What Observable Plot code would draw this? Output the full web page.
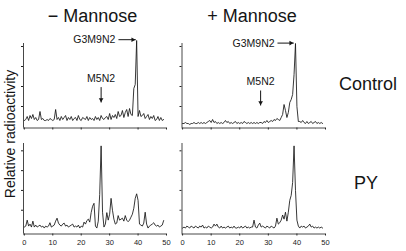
<!DOCTYPE html>
<html><head><meta charset="utf-8">
<script src="https://cdn.jsdelivr.net/npm/d3@7"></script>
<script src="https://cdn.jsdelivr.net/npm/@observablehq/plot@0.6"></script>
<style>
body{margin:0;background:#fff;font-family:"Liberation Sans",Arial,sans-serif;}
#chart{position:relative;width:406px;height:251px;overflow:hidden;background:#fff}
#chart svg{position:absolute;left:0;top:0}
</style></head><body>
<div id="chart"></div>
<script>
// elution time (min)
const times = [
 0,0.5,1,1.5,2,2.5,3,3.5,4,4.5, 5,5.5,6,6.5,7,7.5,8,8.5,9,9.5,
 10,10.5,11,11.5,12,12.5,13,13.5,14,14.5, 15,15.5,16,16.5,17,17.5,18,18.5,19,19.5,
 20,20.5,21,21.5,22,22.5,23,23.5,24,24.5, 25,25.5,26,26.5,27,27.5,28,28.5,29,29.5,
 30,30.5,31,31.5,32,32.5,33,33.5,34,34.5, 35,35.5,36,36.5,37,37.5,38,38.5,39,39.5,
 40,40.5,41,41.5,42,42.5,43,43.5,44,44.5, 45,45.5,46,46.5,47,47.5,48,48.5,49];

// relative radioactivity, − Mannose / Control
const minusControl = [
 0.3,0.35,0.5,0.3,0.55,0.4,0.6,0.35,0.45,0.3, 0.35,0.75,0.35,0.4,0.3,0.3,0.35,0.3,0.4,0.35,
 0.3,0.35,0.85,0.35,0.45,0.3,0.5,0.35,0.45,0.55, 0.3,0.45,0.35,0.5,0.3,0.4,0.45,0.3,0.55,0.35,
 0.3,0.45,0.4,0.35,0.5,0.3,0.45,0.35,0.4,0.3, 0.5,0.35,0.45,0.3,0.55,0.4,0.35,0.45,0.5,0.35,
 0.65,0.35,0.55,0.45,0.6,0.4,0.75,0.5,0.55,0.8, 0.45,0.7,0.85,0.5,0.9,0.6,0.55,1.9,2.1,4.3,
 0.5,0.8,0.5,0.55,0.65,0.4,0.5,0.6,0.35,0.5, 0.4,0.55,0.3,0.35,0.5,0.3,0.45,0.3,0.35];
// + Mannose / Control
const plusControl = [
 0.15,0.15,0.2,0.15,0.15,0.1,0.15,0.15,0.2,0.15, 0.15,0.2,0.15,0.2,0.15,0.2,0.15,0.2,0.25,0.3,
 0.2,0.35,0.2,0.25,0.15,0.2,0.15,0.2,0.15,0.2, 0.3,0.2,0.25,0.15,0.2,0.15,0.2,0.25,0.15,0.2,
 0.15,0.2,0.15,0.25,0.2,0.15,0.2,0.15,0.2,0.15, 0.2,0.15,0.2,0.15,0.2,0.2,0.15,0.25,0.2,0.3,
 0.2,0.25,0.3,0.25,0.35,0.3,0.4,0.35,0.3,0.45, 0.6,1.1,0.8,0.45,0.7,1.2,1.35,1.6,2.6,4.15,
 1.0,0.25,0.25,0.2,0.3,0.2,0.15,0.25,0.15,0.2, 0.25,0.15,0.2,0.25,0.15,0.2,0.15,0.2,0.15];
// − Mannose / PY
const minusPY = [
 0.15,0.2,0.5,0.2,0.3,0.15,0.45,0.15,0.25,0.15, 0.2,0.25,0.15,0.2,0.1,0.2,0.15,0.2,0.37,0.15,
 0.2,0.25,0.45,0.6,0.35,0.25,0.2,0.3,0.35,0.2, 0.25,0.15,0.2,0.25,0.3,0.15,0.2,0.15,0.25,0.1,
 0.2,0.15,0.4,0.3,0.48,0.55,0.4,0.88,1.2,1.35, 0.2,0.1,0.45,1.8,4.25,0.9,0.15,0.3,0.88,0.5,
 0.8,1.6,1.0,0.55,0.3,0.35,0.73,0.5,0.55,0.6, 0.45,0.73,0.5,0.42,0.5,0.65,0.8,1.1,1.6,1.83,
 1.5,0.3,0.25,0.2,0.35,0.9,0.3,0.1,0.2,0.25, 0.3,0.37,0.25,0.2,0.25,0.15,0.2,0.25,0.48];
// + Mannose / PY
const plusPY = [
 0.1,0.15,0.1,0.2,0.15,0.1,0.2,0.15,0.1,0.2, 0.15,0.1,0.2,0.15,0.25,0.1,0.15,0.1,0.2,0.15,
 0.1,0.15,0.3,0.2,0.3,0.15,0.1,0.2,0.1,0.15, 0.1,0.15,0.2,0.1,0.15,0.1,0.2,0.1,0.1,0.15,
 0.1,0.2,0.1,0.15,0.2,0.1,0.15,0.1,0.15,0.15, 0.5,0.15,0.1,0.25,0.35,0.15,0.2,0.15,0.1,0.2,
 0.15,0.1,0.2,0.15,0.1,0.2,0.6,0.3,0.37,0.5, 0.76,0.55,0.9,0.45,0.9,1.5,1.75,2.4,4.25,2.0,
 0.5,0.2,0.1,0.2,0.15,0.2,0.1,0.15,0.2,0.3, 0.15,0.2,0.1,0.15,0.1,0.15,0.1,0.15,0.1];

const xTicks = [0, 10, 20, 30, 40, 50];
const yTicks = [1, 2, 3, 4];
const columnTitles = ["\u2212 Mannose", "+ Mannose"];
const rowLabels = ["Control", "PY"];
const yTitle = "Relative radioactivity";

// peak annotations (label, text anchor point, arrow tail -> head), data units
const g3Label = "G3M9N2";
const m5Label = "M5N2";
const g3Minus = {tx: 32.0, ty: 4.36, x1: 33.1, x2: 39.2, y: 4.34};
const g3Plus  = {tx: 32.2, ty: 4.14, x1: 33.2, x2: 38.9, y: 4.17};
const m5Minus = {tx: 27.0, ty: 2.41, x: 27.0, y1: 1.97, y2: 1.2};
const m5Plus  = {tx: 27.3, ty: 2.24, x: 27.3, y1: 1.8, y2: 1.05};

const W = 406, H = 251;
const FONT = '"Liberation Sans", Arial, sans-serif';
const ink = "#151515";

function panel({values, xDom, left, right, yDom, top, bottom, showX, g3, m5}) {
  const data = times.map((t, i) => ({t, v: values[i]}));
  const marks = [
    Plot.ruleX([xDom[0]], {stroke: "#333", strokeWidth: 0.9}),
    Plot.ruleY([yDom[0]], {stroke: "#333", strokeWidth: 0.9}),
    Plot.line(data, {x: "t", y: "v", stroke: ink, strokeWidth: 0.85})
  ];
  if (g3) {
    marks.push(
      Plot.text([g3], {x: "tx", y: "ty", text: () => g3Label, textAnchor: "end", fontSize: 10.5, fill: ink}),
      Plot.link([g3], {x1: "x1", x2: "x2", y1: "y", y2: "y", stroke: ink, strokeWidth: 1}),
      Plot.dot([g3], {x: "x2", y: "y", symbol: "triangle2", rotate: 90, r: 2.2, fill: ink, stroke: null, dx: -3})
    );
  }
  if (m5) {
    marks.push(
      Plot.text([m5], {x: "tx", y: "ty", text: () => m5Label, fontSize: 10.5, fill: ink}),
      Plot.link([m5], {x1: "x", x2: "x", y1: "y1", y2: "y2", stroke: ink, strokeWidth: 1}),
      Plot.dot([m5], {x: "x", y: "y2", symbol: "triangle2", rotate: 180, r: 2.2, fill: ink, stroke: null, dy: -3})
    );
  }
  return Plot.plot({
    width: W, height: H,
    marginLeft: left, marginRight: W - right, marginTop: top, marginBottom: H - bottom,
    x: {domain: xDom, ticks: xTicks, tickSize: 2, tickPadding: 4,
        tickFormat: showX ? (d => String(d)) : (() => ""), label: null},
    y: {domain: yDom, ticks: yTicks, tickSize: 2, tickFormat: () => "", label: null},
    style: {background: "transparent", fontFamily: FONT, fontSize: "7.5px", color: "#222", overflow: "visible"},
    marks
  });
}

const chart = document.getElementById("chart");
const xDomL = [-0.3, 50], xDomR = [-0.2, 50];
const yDomTop = [-0.075, 4.15], yDomBot = [-0.2, 4.37];

chart.appendChild(panel({values: minusControl, xDom: xDomL, left: 23, right: 166, yDom: yDomTop, top: 43, bottom: 127.5, showX: false, g3: g3Minus, m5: m5Minus}));
chart.appendChild(panel({values: plusControl, xDom: xDomR, left: 181.5, right: 325, yDom: yDomTop, top: 43, bottom: 127.5, showX: false, g3: g3Plus, m5: m5Plus}));
chart.appendChild(panel({values: minusPY, xDom: xDomL, left: 23, right: 166, yDom: yDomBot, top: 143, bottom: 233.5, showX: true}));
chart.appendChild(panel({values: plusPY, xDom: xDomR, left: 181.5, right: 325, yDom: yDomBot, top: 143, bottom: 233.5, showX: true}));

// titles and labels
const ov = d3.select(chart).append("svg").attr("width", W).attr("height", H)
  .style("font-family", FONT).style("fill", ink);
ov.append("text").attr("x", 92.5).attr("y", 22).attr("text-anchor", "middle").attr("font-size", 18).text(columnTitles[0]);
ov.append("text").attr("x", 252).attr("y", 22).attr("text-anchor", "middle").attr("font-size", 18).text(columnTitles[1]);
ov.append("text").attr("x", 368).attr("y", 90).attr("text-anchor", "middle").attr("font-size", 18).text(rowLabels[0]);
ov.append("text").attr("x", 366).attr("y", 188.5).attr("text-anchor", "middle").attr("font-size", 18).text(rowLabels[1]);
ov.append("text").attr("transform", "translate(15,134) rotate(-90)").attr("text-anchor", "middle").attr("font-size", 14).text(yTitle);
</script>
</body></html>
